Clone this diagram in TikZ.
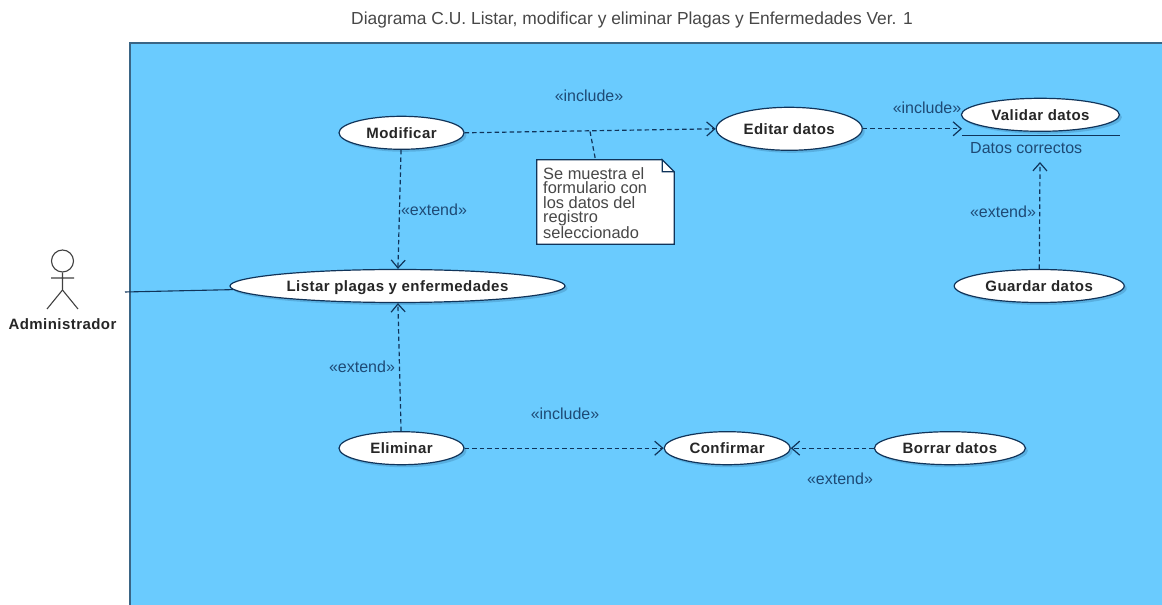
\documentclass[tikz,border=0pt]{standalone}
\usepackage{fontspec}
\setmainfont[BoldFeatures={LetterSpace=3}]{Liberation Sans}
\usetikzlibrary{arrows.meta, positioning, shapes.geometric, shadows}
\definecolor{panelazul}{HTML}{6ACBFE}
\definecolor{bordeazul}{HTML}{3A6585}
\definecolor{lineaazul}{HTML}{10345A}
\definecolor{textoazul}{HTML}{1E4A75}

\begin{document}
\begin{tikzpicture}[
    x = 1pt, y = 1pt,
    caso/.style = {ellipse, draw=lineaazul, fill=white, line width=1.2pt, inner sep=0pt, minimum height=33pt, text height=14pt, text depth=3pt, font=\bfseries\fontsize{15}{18}\selectfont, text=black!85,
      drop shadow={shadow xshift=2.5pt, shadow yshift=-2.5pt, fill=lineaazul, opacity=0.18}},
    etiqueta/.style = {text=textoazul, inner sep=0pt, font=\fontsize{16}{18}\selectfont},
    pil/.style = {lineaazul, line width=1.2pt, dash pattern=on 4.5pt off 3pt, -{Straight Barb[length=8pt, width=14pt]}},
    font=\fontsize{16}{18}\selectfont
    ]
  \useasboundingbox (0,0) rectangle (1162,605);

  \node[inner sep=0pt, text=black!72, font=\fontsize{17.4}{20}\selectfont] (titulo) at (632,585) {Diagrama C.U. Listar, modificar y eliminar Plagas y Enfermedades Ver. 1};
  \fill[panelazul] (130,0) rectangle (1162,562);
  \draw[bordeazul, line width=1.8pt] (130,0) -- (130,562) -- (1162,562);

  % casos de uso
  \node[caso, minimum width=335pt] (listar) at (397.5,319) {Listar plagas y enfermedades};
  \node[caso, minimum width=125pt] (modificar) [above=119pt of listar, xshift=4pt] {Modificar};
  \node[caso, minimum width=125pt] (eliminar) [below=128pt of listar, xshift=4pt] {Eliminar};
  \node[caso, minimum width=146pt, minimum height=43pt] (editar) [right=251pt of modificar, yshift=4pt] {Editar datos};
  \node[caso, minimum width=158pt] (validar) [right=98pt of editar, yshift=14pt] {Validar datos};
  \node[caso, minimum width=170pt] (guardar) [right=388pt of listar] {Guardar datos};
  \node[caso, minimum width=126pt] (confirmar) [right=199pt of eliminar] {Confirmar};
  \node[caso, minimum width=151pt] (borrar) [right=83pt of confirmar] {Borrar datos};

  % actor
  \node[circle, draw=black!75, line width=1.1pt, minimum size=22pt, inner sep=0pt] (cabeza) at (62.5,344) {};
  \coordinate (cadera) at (62.5,315);
  \coordinate (brazoi) at (51,327);
  \coordinate (brazod) at (74,327);
  \coordinate (piei) at (47,296);
  \coordinate (pied) at (78,296);
  \node[inner sep=0pt, text=black!85, font=\bfseries\fontsize{15}{18}\selectfont] (admin) at (62.5,281) {Administrador};
  \draw[black!75, line width=1.1pt] (cabeza) -- (cadera) (brazoi) -- (brazod) (piei) -- (cadera) -- (pied);
  \coordinate (actorfin) at (125,313);
  \draw[lineaazul, line width=1.1pt] (actorfin) -- (listar);

  % nota
  \node[fill=white, minimum width=137pt, minimum height=84pt, inner sep=0pt] (nota) at (605.5,403) {};
  \node[inner sep=0pt, anchor=north west, align=left, text=black!72, font=\fontsize{16.4}{14.5}\selectfont] (notatxt) at (543,438) {Se muestra el\\formulario con\\los datos del\\registro\\seleccionado};
  \fill[panelazul] ([xshift=-12pt]nota.north east) -- (nota.north east) -- ([yshift=-12pt]nota.north east) -- cycle;
  \draw[lineaazul, line width=1.2pt] ([xshift=-12pt]nota.north east) -- (nota.north west) -- (nota.south west) -- (nota.south east) -- ([yshift=-12pt]nota.north east) -- ([xshift=-12pt]nota.north east) -- ([xshift=-12pt,yshift=-12pt]nota.north east) -- ([yshift=-12pt]nota.north east);

  % validar
  \coordinate (raya1) at (962,469.5);
  \coordinate (raya2) at (1120,469.5);
  \draw[lineaazul, line width=1.2pt] (raya1) -- (raya2);
  \node[etiqueta, anchor=west] (correctos) at (970,457) {Datos correctos};
  \coordinate (puntacorrectos) at (1040,443);

  % etiquetas
  \node[etiqueta] (inc1) at (589,509) {«include»};
  \node[etiqueta] (inc2) at (927,497) {«include»};
  \node[etiqueta] (inc3) at (565,191) {«include»};
  \node[etiqueta] (ext1) at (434,395) {«extend»};
  \node[etiqueta] (ext2) at (362,238) {«extend»};
  \node[etiqueta] (ext3) at (1003,393) {«extend»};
  \node[etiqueta] (ext4) at (840,126) {«extend»};

  % conectores
  \coordinate (notapunto) at (590,473.5);
  \draw[pil] (modificar.east) -- (editar.west);
  \draw[pil, -] (notapunto) -- ([xshift=-10pt]nota.north);
  \draw[pil] (editar) -- (raya1 |- editar);
  \draw[pil] (modificar) -- (listar);
  \draw[pil] (eliminar) -- (listar);
  \draw[pil] (eliminar) -- (confirmar);
  \draw[pil] (borrar) -- (confirmar);
  \draw[pil] (guardar) -- (puntacorrectos);

\end{tikzpicture}
\end{document}
